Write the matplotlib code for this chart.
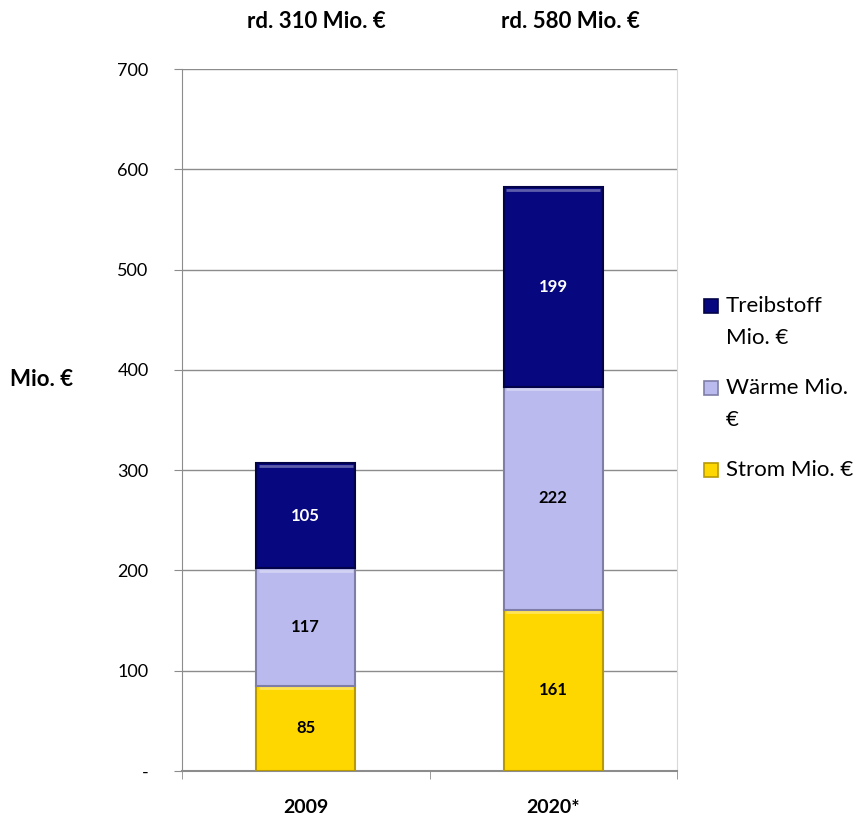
import matplotlib.pyplot as plt
from matplotlib.patches import Rectangle
import numpy as np

plt.rcParams['font.family'] = ['Lato', 'DejaVu Sans']

years = ['2009', '2020*']
strom = [85, 161]
waerme = [117, 222]
treibstoff = [105, 199]
totals_text = ['rd. 310 Mio. €', 'rd. 580 Mio. €']

# name, values, fill, edge, label colour
series = [
    ('Strom Mio. €', strom, '#ffd700', '#b89a00', 'black'),
    ('Wärme Mio.\n€', waerme, '#babaee', '#7e7ea8', 'black'),
    ('Treibstoff\nMio. €', treibstoff, '#07077f', '#03034a', 'white'),
]

W, H = 861, 818
fig = plt.figure(figsize=(W / 100, H / 100), dpi=100)
ax = fig.add_axes([182/W, 47/H, 495/W, 702/H])

x = np.arange(len(years))
bottom = np.zeros(len(years))
for name, vals, col, edge, tcol in series:
    vals = np.array(vals)
    ax.bar(x, vals, 0.4, bottom=bottom, color=col, edgecolor=edge,
           linewidth=1.5, zorder=3)
    # light top edge for the bevel look
    ax.hlines(bottom + vals - 2.5, x - 0.19, x + 0.19, color='white',
              alpha=0.35, lw=2, zorder=4)
    for xi, bi, v in zip(x, bottom, vals):
        ax.text(xi, bi + v / 2, str(v), ha='center', va='center',
                fontsize=12, fontweight='bold', color=tcol, zorder=5)
    bottom = bottom + vals

ax.set_xlim(-0.5, 1.5)
ax.set_ylim(0, 700)
ax.set_yticks(range(0, 701, 100))
ax.set_yticklabels(['-'] + [str(v) for v in range(100, 701, 100)], fontsize=13)
ax.yaxis.grid(True, color='#8c8c8c', lw=1, zorder=0)
ax.set_axisbelow(True)

ax.set_xticks(x)
ax.set_xticklabels(years, fontsize=14, fontweight='bold')
ax.set_xticks([-0.5, 0.5, 1.5], minor=True)
ax.tick_params(axis='x', which='major', length=0, pad=20)
ax.tick_params(axis='x', which='minor', length=6, color='#8c8c8c')
ax.tick_params(axis='y', length=6, color='#8c8c8c', pad=18)

ax.spines['top'].set_visible(False)
ax.spines['right'].set_color('#d9d9d9')
ax.spines['left'].set_color('#8c8c8c')
ax.spines['bottom'].set_color('#8c8c8c')
ax.spines['bottom'].set_linewidth(1.5)

fig.text(10/W, 1 - 380/H, 'Mio. €', fontsize=16, fontweight='bold',
         va='center', ha='left')
fig.text(316/W, 1 - 22/H, totals_text[0], fontsize=16, fontweight='bold',
         ha='center', va='center')
fig.text(570/W, 1 - 22/H, totals_text[1], fontsize=16, fontweight='bold',
         ha='center', va='center')

# legend, top entry first, handle level with the first text line
for i, (name, vals, col, edge, tcol) in enumerate(series[::-1]):
    top = 299 + i * 82
    fig.add_artist(Rectangle((704/W, 1 - (top + 14)/H), 14/W, 14/H,
                             facecolor=col, edgecolor=edge, lw=1.2,
                             transform=fig.transFigure))
    fig.text(726/W, 1 - (top - 3)/H, name, fontsize=16, va='top', ha='left',
             linespacing=1.75)

fig.savefig('out.png', dpi=100)
